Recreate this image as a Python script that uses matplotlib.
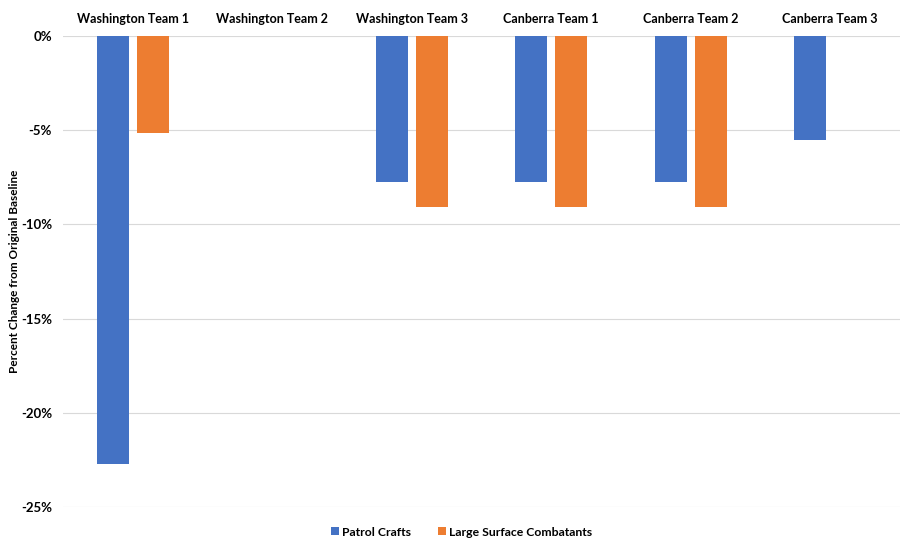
import numpy as np
import matplotlib.pyplot as plt
from matplotlib.ticker import FuncFormatter

plt.rcParams['font.family'] = ['Lato', 'DejaVu Sans']
plt.rcParams['font.weight'] = 'bold'

teams = ["Washington Team 1", "Washington Team 2", "Washington Team 3",
         "Canberra Team 1", "Canberra Team 2", "Canberra Team 3"]
patrol_crafts = [-22.7, 0.0, -7.75, -7.75, -7.75, -5.5]
large_surface = [-5.15, 0.0, -9.1, -9.1, -9.1, 0.0]

blue = "#4472C4"
orange = "#ED7D31"

fig = plt.figure(figsize=(9.04, 5.39), dpi=100)
ax = fig.add_axes([63 / 904, 32 / 539, 837 / 904, 471 / 539])

x = np.arange(len(teams))
w = 0.23
off = 0.143
ax.bar(x - off, patrol_crafts, w, color=blue, linewidth=0,
       label="Patrol Crafts", zorder=3)
ax.bar(x + off, large_surface, w, color=orange, linewidth=0,
       label="Large Surface Combatants", zorder=3)

ax.set_xlim(-0.5, len(teams) - 0.5)
ax.set_ylim(-25, 0)
ax.set_yticks([0, -5, -10, -15, -20, -25])
ax.yaxis.set_major_formatter(FuncFormatter(lambda v, p: f"{v:.0f}%"))
ax.grid(axis="y", color="#d9d9d9", linewidth=0.8, zorder=0)

# category labels sit above the zero line
ax.xaxis.tick_top()
ax.set_xticks(x)
ax.set_xticklabels(teams, fontsize=9, fontweight="bold")
ax.tick_params(axis="both", length=0)
ax.tick_params(axis="x", pad=8)
ax.tick_params(axis="y", labelsize=9.5, pad=8)
for s in ax.spines.values():
    s.set_visible(False)

ax.set_ylabel("Percent Change from Original Baseline", fontsize=8.5, fontweight="bold")
ax.yaxis.set_label_coords(-43 / 837, 0.5)

leg = fig.legend(loc="center", bbox_to_anchor=(462 / 904, 1 - 532 / 539), ncol=2,
                 frameon=False, fontsize=8.8, handlelength=0.6, handleheight=0.6,
                 handletextpad=0.3, columnspacing=2.2)

fig.savefig("out.png", dpi=100)
